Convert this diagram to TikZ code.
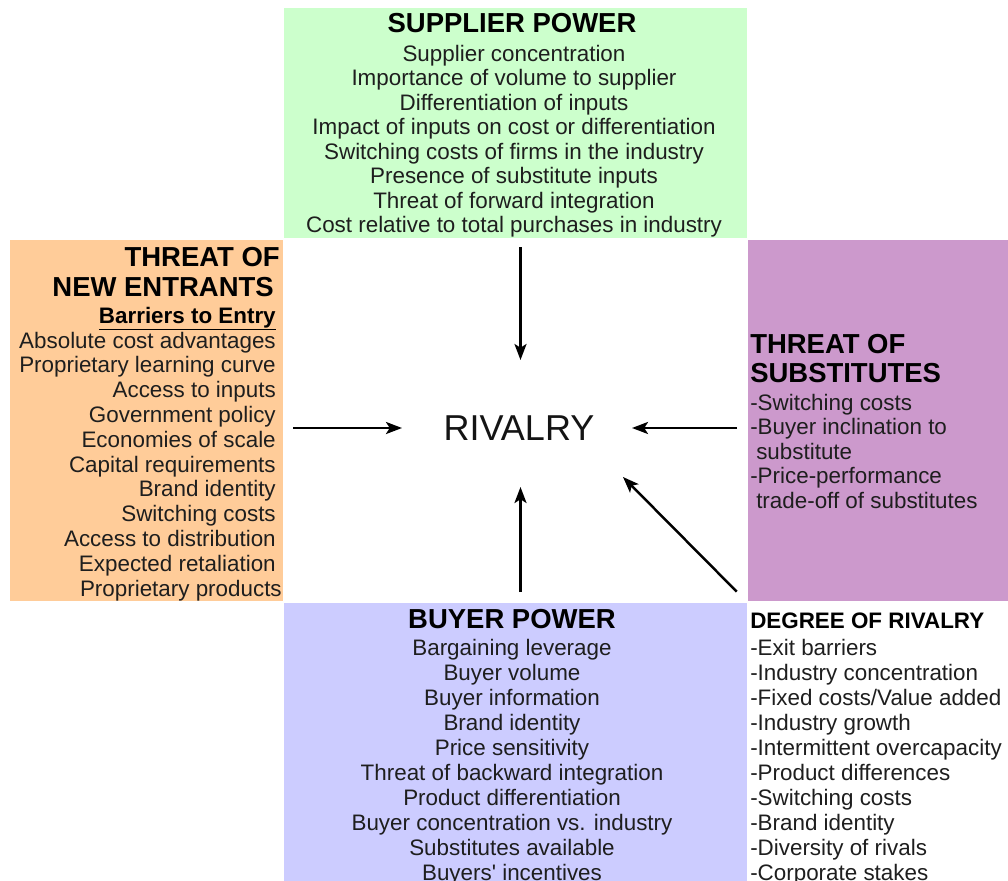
\documentclass[tikz,border=0pt]{standalone}
\usepackage{fontspec}
\setmainfont{Liberation Sans}[Ligatures=TeXOff]
\usetikzlibrary{arrows.meta}

\definecolor{supgreen}{HTML}{CCFFCC}
\definecolor{entorange}{HTML}{FFCC99}
\definecolor{subpurple}{HTML}{CC99CC}
\definecolor{buyblue}{HTML}{CCCCFF}
\definecolor{bodyink}{HTML}{1E1E1E}

\begin{document}
\begin{tikzpicture}[x=0.75pt, y=-0.75pt,
  panel/.style={inner sep=0pt, outer sep=0pt, draw=none, anchor=north west},
  title/.style={inner sep=0pt, font=\bfseries\fontsize{20.6}{22}\selectfont, text=black},
  subtitle/.style={inner sep=0pt, font=\bfseries\fontsize{16.8}{18}\selectfont, text=black},
  body/.style={inner sep=0pt, font=\fontsize{16.8}{18}\selectfont, text=bodyink},
  arr/.style={line width=1.85pt, -{Stealth[length=12pt, width=9pt, inset=2.8pt]}}
]
\useasboundingbox (0,0) rectangle (1008,881);
\fill[white] (0,0) rectangle (1008,881);

% coloured panels
\node[panel, fill=supgreen,   minimum width=347.25pt, minimum height=172.5pt]  (sup) at (284,8)   {};
\node[panel, fill=entorange,  minimum width=204.75pt, minimum height=270.75pt] (ent) at (10,240)  {};
\node[panel, fill=subpurple,  minimum width=195pt,    minimum height=270.75pt] (sub) at (748,240) {};
\node[panel, fill=buyblue,    minimum width=347.25pt, minimum height=208.5pt]  (buy) at (284,603) {};
\node[panel, fill=white,      minimum width=195pt,    minimum height=208.5pt]  (deg) at (748,603) {};

% supplier power
\node[title, anchor=base] (supT) at (512,33) {SUPPLIER POWER};
\foreach \t [count=\i] in {Supplier concentration, Importance of volume to supplier,
    Differentiation of inputs, Impact of inputs on cost or differentiation,
    Switching costs of firms in the industry, Presence of substitute inputs,
    Threat of forward integration, Cost relative to total purchases in industry}
  \node[body, anchor=base] (sup\i) at (514,{61.5+(\i-1)*24.5}) {\t};

% threat of new entrants
\node[title, anchor=base east] (entT1) at (280,266) {THREAT OF};
\node[title, anchor=base east] (entT2) at (274,296) {NEW ENTRANTS};
\node[subtitle, anchor=base east] (entS) at (276,323) {\underline{Barriers to Entry}};
\foreach \t [count=\i] in {Absolute cost advantages, Proprietary learning curve,
    Access to inputs, Government policy, Economies of scale, Capital requirements,
    Brand identity, Switching costs, Access to distribution, Expected retaliation}
  \node[body, anchor=base east] (ent\i) at (276,{348+(\i-1)*24.8}) {\t};
\node[body, anchor=base east] (ent11) at (282,596) {Proprietary products};

% threat of substitutes
\node[title, anchor=base west] (subT1) at (750,353) {THREAT OF};
\node[title, anchor=base west] (subT2) at (750,382) {SUBSTITUTES};
\node[body, anchor=base west] (sub1) at (750,410)   {-Switching costs};
\node[body, anchor=base west] (sub2) at (750,434.5) {-Buyer inclination to};
\node[body, anchor=base west] (sub3) at (756,459)   {substitute};
\node[body, anchor=base west] (sub4) at (750,483.5) {-Price-performance};
\node[body, anchor=base west] (sub5) at (756,508)   {trade-off of substitutes};

% buyer power
\node[title, anchor=base] (buyT) at (512,628) {BUYER POWER};
\foreach \t [count=\i] in {Bargaining leverage, Buyer volume, Buyer information,
    Brand identity, Price sensitivity, Threat of backward integration,
    Product differentiation, Buyer concentration vs. industry,
    Substitutes available, Buyers' incentives}
  \node[body, anchor=base] (buy\i) at (512,{655+(\i-1)*25}) {\t};

% degree of rivalry
\node[subtitle, anchor=base west] (degT) at (750,628) {DEGREE OF RIVALRY};
\foreach \t [count=\i] in {-Exit barriers, -Industry concentration,
    -Fixed costs/Value added, -Industry growth, -Intermittent overcapacity,
    -Product differences, -Switching costs, -Brand identity,
    -Diversity of rivals, -Corporate stakes}
  \node[body, anchor=base west] (deg\i) at (750,{655+(\i-1)*25}) {\t};

% centre
\node[inner sep=0pt, anchor=base, font=\fontsize{27}{29}\selectfont, text=black!92] (rival) at (519,440) {RIVALRY};

% arrow tips around the centre
\coordinate (rtop)   at (520.5,360);
\coordinate (rleft)  at (402,428);
\coordinate (rright) at (632,428);
\coordinate (rbot)   at (520.5,487);
\coordinate (rdiag)  at (623,477);

\draw[arr, shorten <=6.75pt] (sup.south -| rtop) -- (rtop);
\draw[arr, shorten <=7.5pt]  (ent.east |- rleft) -- (rleft);
\draw[arr, shorten <=8.25pt] (sub.west |- rright) -- (rright);
\draw[arr, shorten <=8.25pt] (buy.north -| rbot) -- (rbot);
\draw[arr, shorten <=12pt]   (deg.north west) -- (rdiag);
\end{tikzpicture}
\end{document}
